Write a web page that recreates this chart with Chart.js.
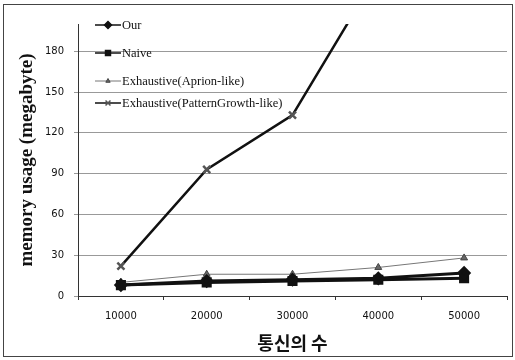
<!DOCTYPE html>
<html>
<head>
<meta charset="utf-8">
<script src="https://cdn.jsdelivr.net/npm/chart.js@4"></script>
<style>
  html, body { margin: 0; padding: 0; background: #fff; }
  #wrap { width: 515px; height: 360px; position: relative; }
</style>
</head>
<body>
<div id="wrap"><canvas id="myChart" width="515" height="360"></canvas></div>
<script>
const xLabels = ["10000", "20000", "30000", "40000", "50000"];

const ourValues = [8, 11, 12, 13, 17];
const naiveValues = [8, 10, 11, 12, 13];
const aprioriValues = [10, 16, 16, 21, 28];
const patternValues = [22, 93, 133, 238, 340];

const yTicks = [0, 30, 60, 90, 120, 150, 180];

// legend drawn inside the plot, upper left
const insideLegend = {
  id: 'insideLegend',
  afterDraw(chart) {
    const ctx = chart.ctx;
    const rows = [25, 53, 81, 103];
    ctx.save();
    chart.data.datasets.forEach((ds, i) => {
      const y = rows[i];
      ctx.strokeStyle = ds.borderColor;
      ctx.lineWidth = Math.min(ds.borderWidth, 1.5);
      ctx.beginPath();
      ctx.moveTo(95, y);
      ctx.lineTo(121, y);
      ctx.stroke();
      ctx.strokeStyle = ds.pointBorderColor;
      ctx.fillStyle = ds.pointBackgroundColor;
      Chart.helpers.drawPoint(ctx, {
        pointStyle: ds.pointStyle,
        radius: ds.pointRadius - 1.5,
        borderWidth: 1,
        rotation: 0
      }, 108, y);
      ctx.fillStyle = '#111';
      ctx.font = '12.5px "Liberation Serif"';
      ctx.textBaseline = 'middle';
      ctx.fillText(ds.label, 122, y + 1);
    });
    // outer frame
    ctx.strokeStyle = '#444';
    ctx.lineWidth = 1;
    ctx.strokeRect(3.5, 4.5, 509, 352);
    ctx.restore();
  }
};

new Chart("myChart", {
  type: "line",
  data: {
    labels: xLabels,
    datasets: [{
      label: 'Our',
      data: ourValues,
      borderColor: "#111",
      backgroundColor: "#111",
      pointBackgroundColor: "#111",
      pointBorderColor: "#111",
      borderWidth: 3,
      pointStyle: 'rectRot',
      pointRadius: 5
    }, {
      label: 'Naive',
      data: naiveValues,
      borderColor: "#111",
      backgroundColor: "#111",
      pointBackgroundColor: "#111",
      pointBorderColor: "#111",
      borderWidth: 3,
      pointStyle: 'rect',
      pointRadius: 5
    }, {
      label: 'Exhaustive(Aprion-like)',
      data: aprioriValues,
      borderColor: "#777",
      backgroundColor: "#666",
      pointBackgroundColor: "#666",
      pointBorderColor: "#444",
      borderWidth: 1,
      pointStyle: 'triangle',
      pointRadius: 4
    }, {
      label: 'Exhaustive(PatternGrowth-like)',
      data: patternValues,
      borderColor: "#111",
      backgroundColor: "#111",
      pointBackgroundColor: "#111",
      pointBorderColor: "#555",
      borderWidth: 2.5,
      pointStyle: 'crossRot',
      pointRadius: 5
    }]
  },
  options: {
    responsive: false,
    animation: false,
    layout: { padding: { left: 12, right: 3, top: 24, bottom: 6 } },
    plugins: {
      legend: { display: false },
      tooltip: { enabled: false }
    },
    scales: {
      x: {
        offset: true,
        grid: {
          display: true,
          drawOnChartArea: false,
          offset: true,
          tickLength: 4,
          color: '#333'
        },
        border: { color: '#333', width: 1 },
        ticks: {
          color: '#111',
          padding: 10,
          font: { family: 'Verdana, "DejaVu Sans"', size: 10 }
        },
        title: {
          display: true,
          text: '통신의 수',
          color: '#111',
          padding: { top: 2, bottom: 0 },
          font: { family: '"Noto Sans CJK KR"', size: 18, weight: 'bold' }
        },
        afterFit(scale) { scale.height = 58; }
      },
      y: {
        min: 0,
        max: 200,
        afterBuildTicks(scale) {
          scale.ticks = yTicks.map(v => ({ value: v }));
        },
        grid: {
          color: '#999',
          tickLength: 4,
          lineWidth: 1
        },
        border: { color: '#333', width: 1 },
        ticks: {
          color: '#111',
          padding: 10,
          font: { family: 'Verdana, "DejaVu Sans"', size: 10 }
        },
        title: {
          display: true,
          text: 'memory usage (megabyte)',
          color: '#111',
          padding: { top: 4, bottom: 2 },
          font: { family: '"Liberation Serif"', size: 19, weight: 'bold' }
        },
        afterFit(scale) { scale.width = 66; }
      }
    }
  },
  plugins: [insideLegend]
});
</script>
</body>
</html>
